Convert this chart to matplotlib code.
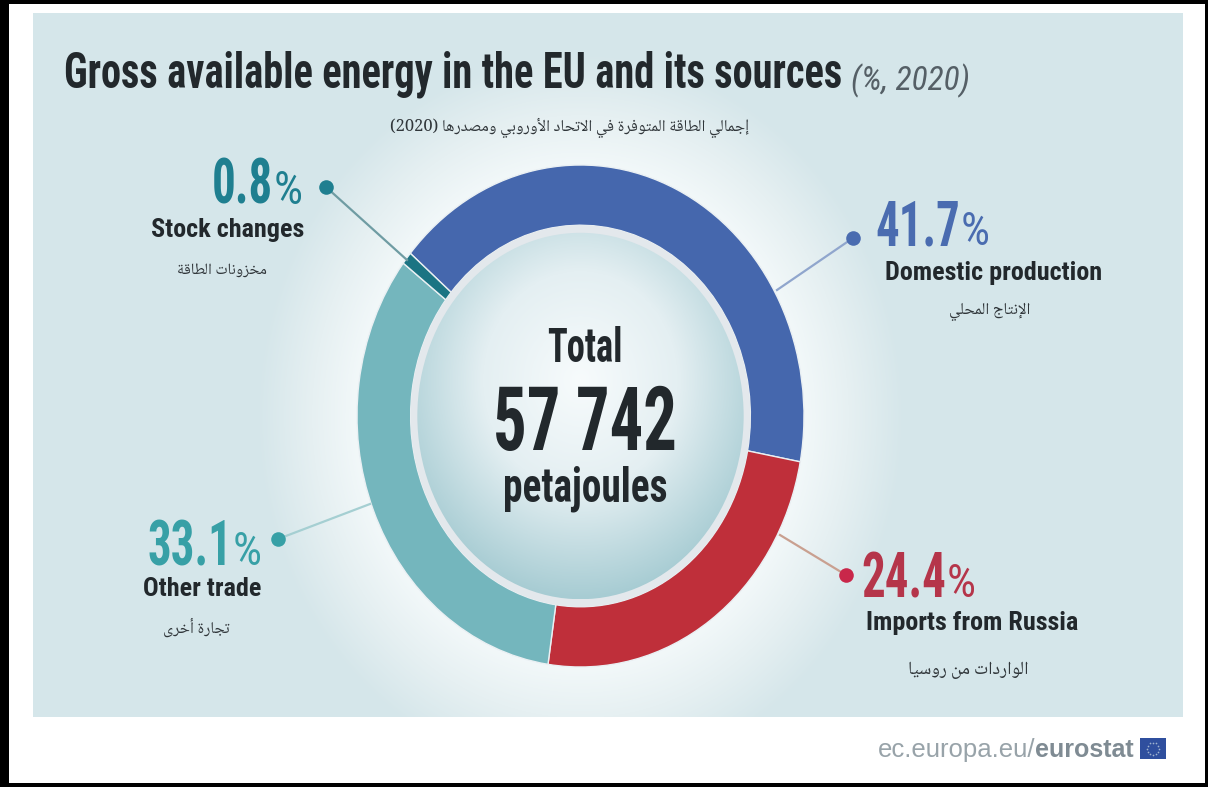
# -*- coding: utf-8 -*-
import unicodedata
import numpy as np
import matplotlib
matplotlib.use('Agg')
import matplotlib.pyplot as plt
from matplotlib import font_manager as fm
from matplotlib.font_manager import FontProperties
from matplotlib.ft2font import FT2Font
from matplotlib.colors import LinearSegmentedColormap
from matplotlib.patches import Ellipse, Rectangle
from fontTools.ttLib import TTFont

#%% dados
categorias = ['Domestic production', 'Imports from Russia', 'Other trade', 'Stock changes']
valores = [41.7, 24.4, 33.1, 0.8]
cores = ['#4567ad', '#bf2f3a', '#74b6bd', '#1b7483']
total = '57 742'

W, H = 1208, 787
fig = plt.figure(figsize=(W / 100, H / 100), dpi=100, facecolor='white')


#%% fonte: a original e bem estreita, entao aperta a Roboto Condensed em x
def estreitar(peso, saida, fx):
    caminho = fm.findfont(FontProperties(family='Roboto Condensed', weight=peso))
    f = TTFont(caminho)
    for t in ['gvar', 'fvar', 'STAT', 'HVAR', 'MVAR', 'avar', 'GPOS', 'GSUB', 'kern', 'hdmx', 'VDMX', 'LTSH']:
        if t in f:
            del f[t]
    glyf = f['glyf']
    for nome in f.getGlyphOrder():
        g = glyf[nome]
        if g.isComposite():
            for c in g.components:
                c.x = round(c.x * fx)
        elif g.numberOfContours > 0:
            g.coordinates.scale((fx, 1))
            g.coordinates.toInt()
        adv, lsb = f['hmtx'][nome]
        f['hmtx'][nome] = (round(adv * fx), round(lsb * fx))
    f.save(saida)
    return FontProperties(fname=saida)


numeros = dict(fontproperties=estreitar('bold', 'cond_75.ttf', 0.75))
titulo = dict(fontproperties=estreitar('bold', 'cond_81.ttf', 0.81))

# fonte arabe com as formas de apresentacao, se tiver
fonte_ar = 'DejaVu Sans'
for candidata in ['Noto Naskh Arabic', 'Noto Sans Arabic']:
    try:
        p = fm.findfont(FontProperties(family=candidata), fallback_to_default=False)
        if 0xFEDF in FT2Font(p).get_charmap() and 0xFEFB in FT2Font(p).get_charmap():
            fonte_ar = candidata
            break
    except ValueError:
        pass

#%% arabe: matplotlib nao faz shaping, entao monta as formas na mao
formas = {}
for c in range(0xFE70, 0xFEFD):
    d = unicodedata.decomposition(chr(c)).split()
    if len(d) > 1 and d[0][0] == '<':
        base = ''.join(chr(int(x, 16)) for x in d[1:])
        formas.setdefault(base, {})[d[0]] = chr(c)


def arabe(s):
    tokens = []
    i = 0
    while i < len(s):
        if s[i] == '\u0644' and i + 1 < len(s) and s[i + 1] in '\u0627\u0623\u0625\u0622':
            tokens.append(s[i:i + 2])
            i += 2
        else:
            tokens.append(s[i])
            i += 1
    saida = []
    for k, t in enumerate(tokens):
        if t not in formas:
            saida.append(t)
            continue
        ant = tokens[k - 1] if k > 0 else ' '
        prox = tokens[k + 1] if k + 1 < len(tokens) else ' '
        liga_ant = ant in formas and '<medial>' in formas[ant]
        liga_prox = prox in formas and '<medial>' in formas[t]
        if liga_ant and liga_prox:
            saida.append(formas[t]['<medial>'])
        elif liga_ant:
            saida.append(formas[t]['<final>'])
        elif liga_prox:
            saida.append(formas[t]['<initial>'])
        else:
            saida.append(formas[t]['<isolated>'])
    return ''.join(saida[::-1])


#%% fundo
ax_bg = fig.add_axes([0, 0, 1, 1])
ax_bg.axis('off')

xx, yy = np.meshgrid(np.arange(33, 1183), np.arange(13, 717))
dist = np.hypot((xx - 580) / 223.5, (yy - 416) / 251)
glow = np.clip((dist - 0.95) / 0.5, 0, 1)
cmap_bg = LinearSegmentedColormap.from_list('bg', ['#f5fafb', '#e6f0f2', '#d5e6ea'])
ax_bg.imshow(glow, cmap=cmap_bg, extent=(33, 1183, 717, 13), aspect='auto', vmin=0, vmax=1)
ax_bg.set_xlim(0, W)
ax_bg.set_ylim(H, 0)

# moldura preta
for r in [(0, 0, W, 4), (0, H - 4, W, 4), (0, 0, 9, H), (W - 3, 0, 3, H)]:
    ax_bg.add_patch(Rectangle((r[0], r[1]), r[2], r[3], color='black', lw=0))

#%% rosca
cx, cy, rx, ry = 580.5, 416, 223.5, 251
ax_d = fig.add_axes([(cx - rx) / W, 1 - (cy + ry) / H, 2 * rx / W, 2 * ry / H])
ax_d.patch.set_alpha(0)
ax_d.pie(valores, colors=cores, startangle=139.6, counterclock=False, radius=1,
         wedgeprops=dict(width=0.24, edgecolor='#eaf0f3', linewidth=1.0))
ax_d.set_aspect('auto')

ax_d.add_patch(Ellipse((0, 0), 1.52, 1.52, fc='#e3e8ec', ec='none', zorder=3))
gx, gy = np.meshgrid(np.linspace(-0.73, 0.73, 300), np.linspace(-0.73, 0.73, 300))
miolo = np.clip(np.hypot(gx, gy - 0.14) / 0.87, 0, 1)
cmap_miolo = LinearSegmentedColormap.from_list('miolo', ['#f7fbfc', '#e4eff2', '#a7ccd3'])
im = ax_d.imshow(miolo, cmap=cmap_miolo, extent=(-0.73, 0.73, -0.73, 0.73), origin='lower',
                 aspect='auto', zorder=4)
im.set_clip_path(Ellipse((0, 0), 1.46, 1.46, transform=ax_d.transData))
ax_d.set_xlim(-1, 1)
ax_d.set_ylim(-1, 1)

#%% textos e chamadas
ax = fig.add_axes([0, 0, 1, 1])
ax.set_xlim(0, W)
ax.set_ylim(H, 0)
ax.axis('off')
ax.patch.set_alpha(0)

escuro = '#22282c'
ax.text(64, 88, 'Gross available energy in the EU and its sources', size=36,
        color=escuro, va='baseline', **titulo)
ax.text(851, 90, '(%, 2020)', family='Roboto Condensed', style='italic', size=24,
        color='#555f66', va='baseline')
ax.text(390, 128, '(2020) ' + arabe('إجمالي الطاقة المتوفرة في الاتحاد الأوروبي ومصدرها'),
        family=fonte_ar, size=11.8, color='#30363a', va='center')

# chamadas: bolinha e linha ate a rosca
chamadas = [
    ((326, 187), (407, 260), '#1f7f90', '#6f9ca3'),
    ((853, 238), (777, 290), '#4a6cb0', '#90a6cd'),
    ((846, 575), (780, 535), '#c9274a', '#c9a090'),
    ((278, 539), (370, 504), '#37a0a6', '#a5cfd2'),
]
for p0, p1, cor, cor_linha in chamadas:
    ax.plot([p0[0], p1[0]], [p0[1], p1[1]], color=cor_linha, lw=1.6, zorder=2)
    ax.plot(*p0, 'o', ms=10.5, color=cor, mec='none', zorder=3)

# percentuais: numero em negrito, % fino
rotulos = [
    (273, 204, '0.8', '#1f7f90'),
    (960, 245, '41.7', '#4a6cb0'),
    (232, 565, '33.1', '#37a0a6'),
    (946, 597, '24.4', '#b5354a'),
]
for x, y, txt, cor in rotulos:
    ax.text(x, y, txt, size=45, color=cor, ha='right', va='baseline', **numeros)
    ax.text(x + 1, y, '%', family='Roboto Condensed', size=33, color=cor, ha='left', va='baseline')

nomes_pos = [(228, 230), (994, 273), (202, 589), (972, 623)]
for (x, y), nome in zip(nomes_pos, [categorias[3], categorias[0], categorias[2], categorias[1]]):
    ax.text(x, y, nome, family='Roboto Condensed', weight='bold', size=18.8, color=escuro,
            ha='center', va='center')

arabes = [
    (222, 270, 'مخزونات الطاقة', 11.3),
    (990, 312, 'الإنتاج المحلي', 11.8),
    (196, 627, 'تجارة أخرى', 11.7),
    (968, 670, 'الواردات من روسيا', 13.2),
]
for x, y, txt, tam in arabes:
    ax.text(x, y, arabe(txt), family=fonte_ar, size=tam, color='#30363a', ha='center', va='center')

# centro
ax.text(585, 362, 'Total', size=35, color=escuro, ha='center', va='baseline', **numeros)
ax.text(585, 450, total, size=64, color=escuro, ha='center', va='baseline', **numeros)
ax.text(585, 501, 'petajoules', size=35, color=escuro, ha='center', va='baseline', **titulo)

# rodape
ax.text(1035, 757, 'ec.europa.eu/', family='Liberation Sans', size=18.5, color='#98a3a9', ha='right', va='baseline')
ax.text(1035, 757, 'eurostat', family='Liberation Sans', weight='bold', size=18, color='#7f8b93', ha='left', va='baseline')
ax.add_patch(Rectangle((1140, 738), 26, 21, color='#2f4f9e', lw=0))
ang = np.arange(12) * np.pi / 6
ax.scatter(1153 + 6 * np.cos(ang), 748.5 + 6 * np.sin(ang), s=1.5, color='#9fb3cf', lw=0)

fig.savefig('out.png', dpi=100)
